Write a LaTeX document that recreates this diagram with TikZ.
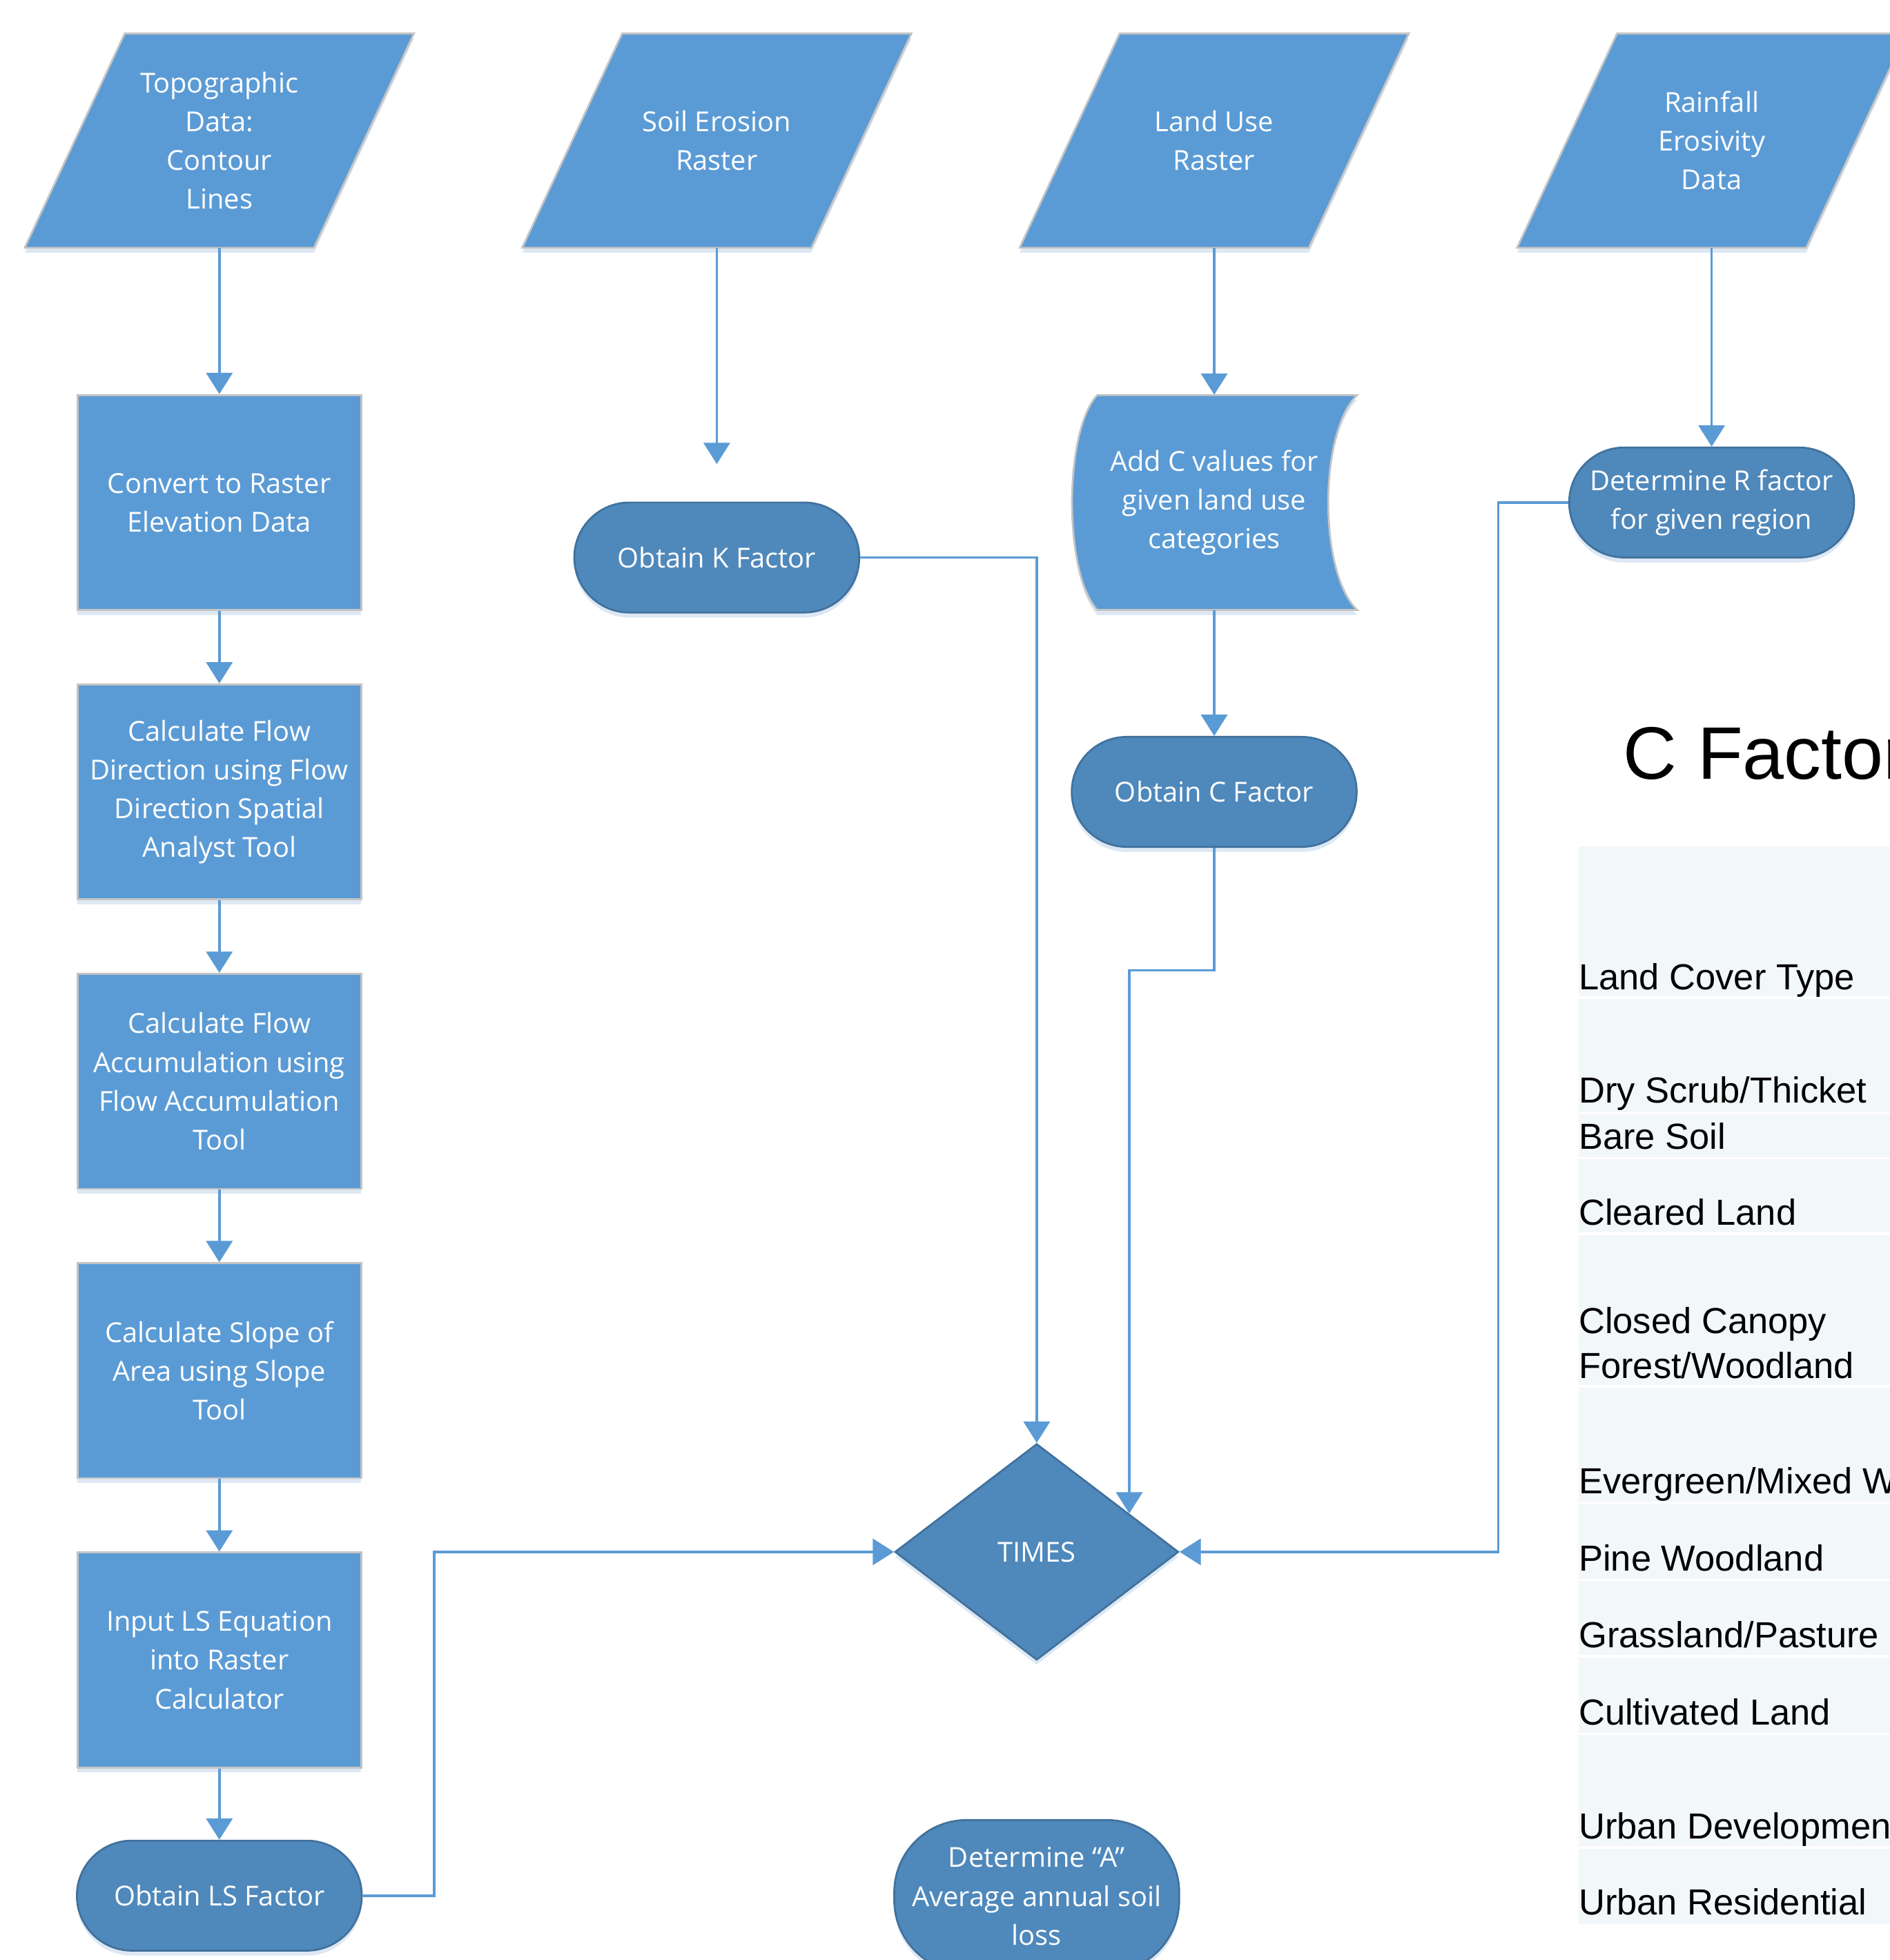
\documentclass[tikz,border=0pt]{standalone}
\usepackage{fontspec}
\setmainfont{Liberation Sans}
\newfontfamily\flowfont{Open Sans}
\usetikzlibrary{arrows.meta,shapes.geometric,backgrounds,calc,shadows}
\definecolor{boxblue}{HTML}{5B9BD5}
\definecolor{termblue}{HTML}{4F88BB}
\definecolor{termedge}{HTML}{41719C}
\definecolor{boxedge}{HTML}{C4C4C4}
\definecolor{shadowc}{HTML}{DDE8F4}
\definecolor{tablebg}{HTML}{F2F7FA}
\newcommand\ioshape[3]{%
  \node[iobb] (#1) at (#2) {#3};
  \begin{scope}[on background layer]
    \path[ioshp] ($(#1.north west)+(80,0)$) -- (#1.north east) -- ($(#1.south east)+(-80,0)$) -- (#1.south west) -- cycle;
  \end{scope}}
\begin{document}
\begin{tikzpicture}[x=1pt,y=-1pt,
  shadowed/.style={drop shadow={shadow xshift=0pt, shadow yshift=-4pt, fill=shadowc, opacity=1}},
  flowtext/.style={text=white, font=\flowfont\fontsize{22}{31}\selectfont, align=center, inner sep=0pt},
  iobb/.style={flowtext, rectangle, minimum width=311pt, minimum height=171pt},
  sdbb/.style={flowtext, rectangle, minimum width=228pt, minimum height=172pt},
  ioshp/.style={fill=boxblue, draw=boxedge, line width=1.5pt, shadowed},
  procbox/.style={flowtext, rectangle, draw=boxedge, line width=1.5pt, fill=boxblue, minimum width=227pt, minimum height=172pt, shadowed},
  termbox/.style={flowtext, rectangle, rounded corners=44pt, draw=termedge, line width=1.5pt, fill=termblue, minimum width=228pt, minimum height=88pt, shadowed},
  decbox/.style={flowtext, diamond, draw=termedge, line width=1.5pt, fill=termblue, minimum width=227pt, minimum height=173pt, shadowed},
  conn/.style={draw=boxblue, line width=2pt, -{Triangle[length=17pt,width=21pt]}},
  tabtext/.style={anchor=base west, inner sep=0pt, font=\fontsize{29}{35}\selectfont, text=black}
]
\useasboundingbox (0,0) rectangle (1512,1568);

% input data shapes
\ioshape{p1}{175.5,112.5}{Topographic\\Data:\\Contour\\Lines}
\ioshape{p2}{573.5,112.5}{Soil Erosion\\Raster}
\ioshape{p3}{971.5,112.5}{Land Use\\Raster}
\ioshape{p4}{1369.5,112.5}{Rainfall\\Erosivity\\Data}

% left column processes
\node[procbox] (r1) at (175.5,402) {Convert to Raster\\Elevation Data};
\node[procbox] (r2) at (175.5,633.5) {Calculate Flow\\Direction using Flow\\Direction Spatial\\Analyst Tool};
\node[procbox] (r3) at (175.5,865) {Calculate Flow\\Accumulation using\\Flow Accumulation\\Tool};
\node[procbox] (r4) at (175.5,1096.5) {Calculate Slope of\\Area using Slope\\Tool};
\node[procbox] (r5) at (175.5,1328) {Input LS Equation\\into Raster\\Calculator};
\node[termbox] (ls) at (175.5,1516.5) {Obtain LS Factor};

% other columns
\node[termbox] (k) at (573.5,446) {Obtain K Factor};
\node[sdbb] (addc) at (971.5,402) {Add C values for\\given land use\\categories};
\begin{scope}[on background layer]
  \path[ioshp, shift={(addc.center)}] (-93.5,-86) -- (114.5,-86)
    .. controls (83.5,-57) and (83.5,57) .. (114.5,86) -- (-93.5,86)
    .. controls (-120.5,57) and (-120.5,-57) .. (-93.5,-86) -- cycle;
\end{scope}
\node[termbox] (cf) at (971.5,633.5) {Obtain C Factor};
\node[termbox] (rf) at (1369.5,402) {Determine R factor\\for given region};
\node[decbox] (tm) at (829.5,1241.5) {TIMES};
\node[termbox, minimum height=122pt, rounded corners=58pt] (a) at (829.5,1517) {Determine “A”\\Average annual soil\\loss};

% connectors
\draw[conn] (p1.south) -- (r1.north);
\draw[conn] (r1.south) -- (r2.north);
\draw[conn] (r2.south) -- (r3.north);
\draw[conn] (r3.south) -- (r4.north);
\draw[conn] (r4.south) -- (r5.north);
\draw[conn] (r5.south) -- (ls.north);
\draw[conn, shorten >=30pt] (p2.south) -- (k.north);
\draw[conn] (p3.south) -- (addc.north);
\draw[conn] (addc.south) -- (cf.north);
\draw[conn] (p4.south) -- (rf.north);
\draw[conn] (k.east) -| (tm.north);
\draw[conn] (cf.south) -- ++(0,98) -| ($(tm.north)!0.648!(tm.east)$);
\draw[conn] (rf.west) -- ++(-56,0) |- (tm.east);
\draw[conn] (ls.east) -- ++(57,0) |- (tm.west);

% C factor table
\node[anchor=base west, inner sep=0pt, font=\fontsize{59.5}{70}\selectfont] (title) at (1298.5,623.5) {C Factor};
\fill[tablebg] (1263,677) rectangle (1520,1539);
\foreach \yy in {798,890.5,926.5,987,1109,1202,1264,1325,1387,1478}
  \draw[white, line width=2pt] (1263,\yy) -- (1520,\yy);
\node[tabtext] (t1) at (1263,791.5) {Land Cover Type};
\node[tabtext] (t2) at (1263,882.5) {Dry Scrub/Thicket};
\node[tabtext] (t3) at (1263,919.5) {Bare Soil};
\node[tabtext] (t4) at (1263,980) {Cleared Land};
\node[tabtext] (t5) at (1263,1067) {Closed Canopy};
\node[tabtext] (t6) at (1263,1102.5) {Forest/Woodland};
\node[tabtext] (t7) at (1263,1195) {Evergreen/Mixed Woodland};
\node[tabtext] (t8) at (1263,1257) {Pine Woodland};
\node[tabtext] (t9) at (1263,1318) {Grassland/Pasture};
\node[tabtext] (t10) at (1263,1380) {Cultivated Land};
\node[tabtext] (t11) at (1263,1471) {Urban Development};
\node[tabtext] (t12) at (1263,1532) {Urban Residential};
\end{tikzpicture}
\end{document}
